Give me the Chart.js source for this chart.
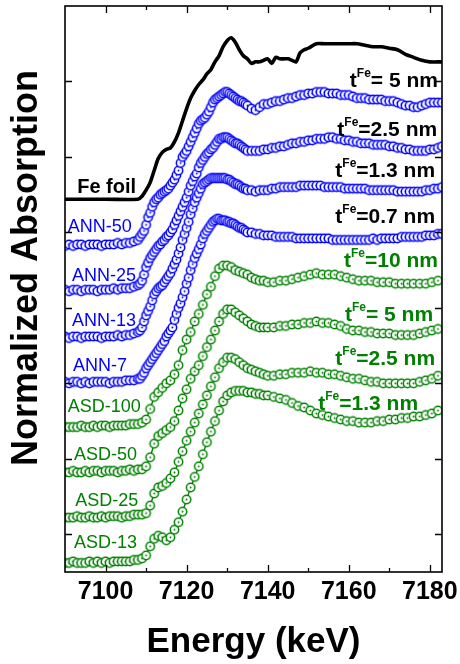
<!DOCTYPE html>
<html>
<head>
<meta charset="utf-8">
<title>Fe K-edge XANES</title>
<script src="https://cdn.jsdelivr.net/npm/chart.js@4.4.1/dist/chart.umd.min.js"></script>
<style>
  html, body { margin: 0; padding: 0; background: #fff; }
  canvas { display: block; }
</style>
</head>
<body>
<canvas id="xanes" width="460" height="664"></canvas>
<script>
// ---------- spectra (normalized absorption, stacked with a vertical offset) ----------

// Fe foil reference
const energyFe = [7090,7100,7108,7109,7110,7111,7112,7113,7114,7115,7116,7117,7118,7119,7120,7121,7122,7123,7124,7125,
  7126,7127,7128,7129,7130,7131,7132,7133,7134,7135,7136,7137,7138,7139,7140,7141,7142,7143,7144,7145,
  7146,7147,7148,7149,7150,7152,7154,7156,7158,7160,7162,7164,7166,7168,7170,7172,7174,7176,7178,7180,7183];
const muFe = [0.02,0.02,0.02,0.04,0.08,0.13,0.21,0.29,0.33,0.35,0.36,0.40,0.46,0.54,0.62,0.69,0.74,0.78,0.81,0.85,
  0.88,0.93,0.97,1.03,1.07,1.09,1.06,1.01,0.97,0.95,0.92,0.93,0.93,0.94,0.95,0.92,0.96,0.95,0.95,0.95,
  0.94,0.93,0.99,1.01,1.02,1.05,1.05,1.05,1.05,1.05,1.05,1.04,1.03,1.03,1.02,1.01,0.98,0.96,0.94,0.93,0.93];

// annealed films (ANN): shared energy grid
const energyAnn = [7090,7091,7092,7093,7094,7095,7096,7097,7098,7099,7100,7101,7102,7103,7104,7105,7106,7107,7108,
  7108.5,7109,7109.5,7110,7110.5,7111,7111.5,7112,7112.5,7113,7113.5,7114,7114.5,7115,7115.5,7116,7116.5,7117,7117.5,7118,
  7118.5,7119,7119.5,7120,7120.5,7121,7121.5,7122,7122.5,7123,7123.5,7124,7124.5,7125,7125.5,7126,7126.5,7127,7127.5,7128,
  7128.5,7129,7129.5,7130,7130.5,7131,7131.5,7132,7132.5,7133,7133.5,7134,7134.5,7135,
  7136,7137,7138,7139,7140,7141,7142,7143,7144,7145,7146,7147,7148,7149,7150,7151,7152,7153,7154,7155,
  7156,7157,7158,7159,7160,7161,7162,7163,7164,7165,7166,7167,7168,7169,7170,7171,7172,7173,7174,7175,
  7176,7177,7178,7179,7180,7181,7182,7183];
const muAnn50 = [0.01,0.02,0.01,0.02,0.02,0.01,0.02,0.02,0.02,0.01,0.02,0.02,0.02,0.03,0.02,0.03,0.03,0.04,0.05,
  0.07,0.09,0.11,0.15,0.20,0.23,0.27,0.30,0.32,0.33,0.35,0.36,0.37,0.38,0.39,0.41,0.43,0.45,0.48,0.51,
  0.56,0.60,0.62,0.64,0.67,0.70,0.73,0.76,0.79,0.82,0.84,0.85,0.86,0.88,0.90,0.93,0.96,0.98,0.99,1.00,
  1.01,1.02,1.03,1.03,1.02,1.01,1.00,0.99,0.98,0.97,0.97,0.96,0.95,0.94,
  0.92,0.91,0.93,0.95,0.95,0.96,0.97,0.97,0.98,0.99,0.99,1.00,1.01,1.01,1.02,1.02,1.03,1.03,1.03,1.02,
  1.02,1.02,1.01,1.01,1.01,1.00,0.99,0.99,0.99,0.98,0.98,0.98,0.98,0.97,0.97,0.97,0.96,0.95,0.94,0.94,
  0.93,0.93,0.94,0.95,0.96,0.96,0.96,0.96];
const muAnn25 = [0.02,0.01,0.02,0.02,0.01,0.02,0.02,0.02,0.01,0.02,0.02,0.02,0.03,0.02,0.03,0.03,0.03,0.04,0.05,
  0.06,0.08,0.12,0.17,0.20,0.23,0.25,0.27,0.29,0.31,0.32,0.34,0.35,0.37,0.38,0.40,0.42,0.45,0.48,0.51,
  0.54,0.57,0.60,0.63,0.67,0.71,0.74,0.77,0.79,0.83,0.86,0.88,0.90,0.92,0.93,0.95,0.96,0.98,1.00,1.02,
  1.02,1.03,1.03,1.03,1.02,1.01,1.00,0.99,0.99,0.98,0.97,0.96,0.95,0.94,
  0.94,0.94,0.94,0.95,0.95,0.96,0.96,0.97,0.97,0.98,0.99,0.99,1.00,1.00,1.01,1.01,1.02,1.02,1.02,1.03,
  1.03,1.02,1.02,1.01,1.01,1.00,1.00,0.99,0.99,0.99,0.98,0.98,0.98,0.98,0.97,0.97,0.96,0.96,0.95,0.95,
  0.94,0.94,0.94,0.94,0.95,0.95,0.96,0.97];
const muAnn13 = [0.01,0.00,0.01,0.01,0.00,0.01,0.01,0.01,0.01,0.00,0.01,0.01,0.01,0.02,0.01,0.02,0.02,0.03,0.04,
  0.05,0.07,0.11,0.15,0.18,0.21,0.25,0.29,0.31,0.33,0.34,0.35,0.37,0.39,0.41,0.43,0.46,0.49,0.52,0.56,
  0.60,0.65,0.69,0.73,0.77,0.82,0.86,0.90,0.93,0.96,0.99,1.02,1.03,1.04,1.05,1.06,1.06,1.06,1.06,1.06,
  1.06,1.06,1.06,1.05,1.05,1.04,1.03,1.02,1.02,1.01,1.00,0.99,0.99,0.98,
  0.98,0.97,0.98,0.98,0.98,0.99,0.99,1.00,1.00,1.00,1.00,1.00,1.01,1.01,1.01,1.01,1.01,1.01,1.00,1.00,
  1.00,1.00,1.00,0.99,0.99,0.99,0.99,0.99,0.99,0.98,0.98,0.98,0.98,0.98,0.98,0.98,0.97,0.97,0.97,0.97,
  0.97,0.97,0.97,0.98,0.98,0.99,0.99,1.00];
const muAnn7 = [0.01,0.00,0.01,0.01,0.00,0.01,0.00,0.01,0.01,0.01,0.01,0.00,0.01,0.01,0.01,0.02,0.02,0.02,0.03,
  0.03,0.05,0.07,0.10,0.12,0.14,0.16,0.18,0.20,0.22,0.24,0.26,0.28,0.31,0.33,0.35,0.37,0.42,0.46,0.50,
  0.53,0.57,0.61,0.66,0.70,0.75,0.79,0.83,0.86,0.89,0.92,0.96,0.99,1.01,1.03,1.05,1.07,1.08,1.09,1.09,
  1.08,1.08,1.08,1.07,1.07,1.06,1.06,1.05,1.04,1.03,1.03,1.02,1.01,1.00,
  1.00,0.99,0.99,0.98,0.98,0.98,0.97,0.97,0.97,0.97,0.97,0.96,0.96,0.96,0.96,0.96,0.96,0.96,0.96,0.96,
  0.95,0.95,0.95,0.95,0.95,0.95,0.95,0.95,0.95,0.95,0.96,0.95,0.96,0.96,0.96,0.96,0.96,0.97,0.97,0.97,
  0.97,0.97,0.97,0.98,0.98,0.98,0.99,0.99];

// as-deposited films (ASD): shared energy grid
const energyAsd = [7090,7091,7092,7093,7094,7095,7096,7097,7098,7099,7100,7101,7102,7103,7104,7105,7106,7107,7108,7109,
  7110,7111,7112,7113,7114,7115,7116,7117,7118,7119,7120,7121,7122,7123,7124,7125,7126,7127,7128,7129,
  7130,7131,7132,7133,7134,7135,7136,7137,7138,7139,7140,
  7141.5,7143,7144.5,7146,7147.5,7149,7150.5,7152,7153.5,7155,7156.5,7158,7159.5,7161,7162.5,7164,7165.5,7167,
  7168.5,7170,7171.5,7173,7174.5,7176,7177.5,7179,7180.5,7182];
const muAsd100 = [0.01,0.01,0.01,0.01,0.02,0.01,0.01,0.02,0.01,0.02,0.02,0.01,0.02,0.02,0.02,0.02,0.03,0.03,0.03,0.04,
  0.06,0.13,0.21,0.24,0.27,0.30,0.32,0.36,0.42,0.52,0.59,0.64,0.71,0.76,0.82,0.89,0.94,1.01,1.06,1.08,
  1.08,1.07,1.05,1.04,1.03,1.02,1.00,0.99,0.98,0.98,0.97,
  0.97,0.98,0.98,0.99,1.00,1.01,1.02,1.03,1.02,1.02,1.02,1.01,1.00,0.99,0.98,0.98,0.98,0.97,
  0.97,0.97,0.96,0.96,0.96,0.96,0.96,0.96,0.97,0.98];
const muAsd50 = [0.01,0.01,0.02,0.01,0.01,0.02,0.01,0.02,0.02,0.01,0.02,0.02,0.02,0.01,0.02,0.02,0.03,0.02,0.03,0.03,
  0.05,0.11,0.20,0.25,0.27,0.29,0.31,0.35,0.42,0.50,0.56,0.63,0.68,0.72,0.78,0.84,0.89,0.95,1.01,1.06,
  1.09,1.09,1.07,1.05,1.03,1.01,0.99,0.98,0.97,0.97,0.97,
  0.97,0.98,0.98,0.99,0.99,1.00,1.00,1.01,1.00,1.00,0.99,0.98,0.96,0.95,0.95,0.94,0.94,0.93,
  0.93,0.93,0.92,0.92,0.92,0.92,0.93,0.94,0.95,0.96];
const muAsd25 = [0.01,0.01,0.01,0.02,0.01,0.01,0.02,0.01,0.01,0.02,0.01,0.02,0.02,0.02,0.01,0.02,0.02,0.03,0.03,0.03,
  0.04,0.09,0.17,0.21,0.22,0.24,0.27,0.31,0.38,0.45,0.52,0.58,0.64,0.70,0.76,0.82,0.88,0.94,1.00,1.04,
  1.07,1.07,1.06,1.04,1.02,1.00,0.99,0.98,0.97,0.96,0.95,
  0.95,0.96,0.96,0.97,0.97,0.97,0.98,0.97,0.97,0.96,0.96,0.95,0.94,0.93,0.93,0.92,0.91,0.91,
  0.90,0.90,0.90,0.90,0.90,0.90,0.91,0.92,0.93,0.95];
const muAsd13 = [0.01,0.01,0.02,0.01,0.01,0.01,0.02,0.01,0.02,0.01,0.02,0.01,0.02,0.02,0.02,0.02,0.02,0.03,0.03,0.04,
  0.06,0.12,0.17,0.19,0.18,0.16,0.18,0.23,0.28,0.35,0.43,0.51,0.58,0.65,0.73,0.81,0.88,0.95,1.02,1.08,
  1.12,1.14,1.15,1.15,1.15,1.14,1.14,1.13,1.13,1.12,1.12,
  1.11,1.10,1.09,1.07,1.05,1.04,1.02,1.00,0.99,0.98,0.97,0.96,0.95,0.95,0.94,0.94,0.94,0.95,
  0.95,0.96,0.96,0.97,0.97,0.98,0.98,0.99,1.00,1.02];

// sample names, Fe layer thickness and vertical stacking offset (top to bottom)
const sampleNames = ['Fe foil','ANN-50','ANN-25','ANN-13','ANN-7','ASD-100','ASD-50','ASD-25','ASD-13'];
const thicknessText = [null,'= 5 nm','=2.5 nm','=1.3 nm','=0.7 nm','=10 nm','= 5 nm','=2.5 nm','=1.3 nm'];
const stackOffset = [2.2, 1.9, 1.6, 1.3, 1.0, 0.7, 0.4, 0.1, -0.2];
const sampleEnergy = [energyFe, energyAnn, energyAnn, energyAnn, energyAnn, energyAsd, energyAsd, energyAsd, energyAsd];
const sampleMu = [muFe, muAnn50, muAnn25, muAnn13, muAnn7, muAsd100, muAsd50, muAsd25, muAsd13];

// ---------- label placement (energy, stacked absorption) ----------
const nameAt = [[7093, 2.26], [7090.7, 2.0], [7091.7, 1.68], [7091.7, 1.38], [7092, 1.08],
                [7090.7, 0.81], [7092.2, 0.49], [7092.5, 0.19], [7092.2, -0.09]];
const thicknessAt = [null, [7182, 2.963], [7181.8, 2.639], [7181.3, 2.367], [7181.3, 2.062],
                     [7182, 1.771], [7180.8, 1.413], [7181.3, 1.121], [7177.1, 0.823]];

// ---------- styling ----------
const FONT = '"Liberation Sans", Arial, Helvetica, sans-serif';
const BLACK = '#000000', BLUE = '#0000ff', GREEN = '#008000';
const seriesColor = i => (i === 0 ? BLACK : i <= 4 ? BLUE : GREEN);

// open circle with a white face and a centre dot
function ringMarker(color) {
  const c = document.createElement('canvas');
  c.width = 13; c.height = 13;
  const g = c.getContext('2d');
  g.beginPath(); g.arc(6.5, 6.5, 4.2, 0, Math.PI * 2);
  g.fillStyle = '#ffffff'; g.fill();
  g.lineWidth = 1.5; g.strokeStyle = color; g.stroke();
  g.beginPath(); g.arc(6.5, 6.5, 0.95, 0, Math.PI * 2);
  g.fillStyle = color; g.fill();
  return c;
}
const blueRing = ringMarker(BLUE);
const greenRing = ringMarker(GREEN);

const datasets = sampleNames.map((name, i) => {
  const pts = sampleEnergy[i].map((e, k) => ({ x: e, y: sampleMu[i][k] + stackOffset[i] }));
  if (i === 0) {
    return { label: name, data: pts, borderColor: BLACK, borderWidth: 3.6, pointRadius: 0,
             tension: 0.3, fill: false };
  }
  const color = seriesColor(i);
  return { label: name, data: pts, borderColor: color, borderWidth: i <= 4 ? 1 : 1.4,
           pointStyle: i <= 4 ? blueRing : greenRing, pointRadius: 4, tension: 0, fill: false };
});

// box frame with inward ticks on all four sides
const framePlugin = {
  id: 'frame',
  afterDatasetsDraw(chart) {
    const { ctx, chartArea: a, scales: { x, y } } = chart;
    ctx.save();
    ctx.strokeStyle = BLACK;
    ctx.lineWidth = 1.3;
    ctx.beginPath();
    const major = x.ticks.map(t => t.value);
    const step = major.length > 1 ? major[1] - major[0] : 20;
    const minor = [];
    major.forEach(v => { const m = v + step / 2; if (m < x.max) minor.push(m); });
    if (major[0] - step / 2 > x.min) minor.push(major[0] - step / 2);
    const vTick = (v, len) => {
      const px = Math.round(x.getPixelForValue(v)) + 0.5;
      ctx.moveTo(px, a.bottom); ctx.lineTo(px, a.bottom - len);
      ctx.moveTo(px, a.top); ctx.lineTo(px, a.top + len);
    };
    major.forEach(v => vTick(v, 7));
    minor.forEach(v => vTick(v, 4));
    y.ticks.forEach(t => {
      const py = Math.round(y.getPixelForValue(t.value)) + 0.5;
      if (py < a.top + 2 || py > a.bottom - 2) return;
      ctx.moveTo(a.left, py); ctx.lineTo(a.left + 7, py);
      ctx.moveTo(a.right, py); ctx.lineTo(a.right - 7, py);
    });
    ctx.stroke();
    ctx.lineWidth = 1.6;
    ctx.strokeRect(a.left, a.top, a.right - a.left, a.bottom - a.top);
    ctx.restore();
  }
};

// sample names, thickness labels and axis titles
const labelPlugin = {
  id: 'labels',
  afterDraw(chart) {
    const { ctx, chartArea: a, scales: { x, y } } = chart;
    ctx.save();
    ctx.textBaseline = 'alphabetic';
    sampleNames.forEach((name, i) => {
      const [e, v] = nameAt[i];
      ctx.fillStyle = seriesColor(i);
      ctx.textAlign = 'left';
      ctx.font = i === 0 ? `bold 20px ${FONT}` : `18px ${FONT}`;
      ctx.fillText(name, x.getPixelForValue(e), y.getPixelForValue(v));
    });
    thicknessText.forEach((txt, i) => {
      if (!txt) return;
      const [e, v] = thicknessAt[i];
      const right = x.getPixelForValue(e), base = y.getPixelForValue(v);
      const main = `bold 21px ${FONT}`, sup = `bold 12px ${FONT}`;
      ctx.font = main; const wt = ctx.measureText('t').width; const wr = ctx.measureText(txt).width;
      ctx.font = sup; const wf = ctx.measureText('Fe').width;
      const start = right - (wt + wf + wr);
      ctx.fillStyle = i <= 4 ? BLACK : GREEN;
      ctx.textAlign = 'left';
      ctx.font = main; ctx.fillText('t', start, base);
      ctx.font = sup; ctx.fillText('Fe', start + wt, base - 10);
      ctx.font = main; ctx.fillText(txt, start + wt + wf, base);
    });
    // axis titles
    ctx.fillStyle = BLACK;
    ctx.textAlign = 'center';
    ctx.font = `bold 35px ${FONT}`;
    ctx.fillText('Energy (keV)', (a.left + a.right) / 2, a.bottom + 80);
    ctx.translate(a.left - 28, (a.top + a.bottom) / 2 - 21);
    ctx.rotate(-Math.PI / 2);
    ctx.font = `bold 36px ${FONT}`;
    ctx.fillText('Normalized Absorption', 0, 0);
    ctx.restore();
  }
};

new Chart(document.getElementById('xanes'), {
  type: 'line',
  data: { datasets },
  options: {
    responsive: false,
    animation: false,
    devicePixelRatio: 1,
    layout: { padding: { top: 6, right: 18, left: 0, bottom: 0 } },
    plugins: { legend: { display: false }, tooltip: { enabled: false } },
    scales: {
      x: {
        type: 'linear', min: 7090, max: 7183,
        grid: { display: false }, border: { display: false },
        ticks: { stepSize: 20, includeBounds: false, autoSkip: false, maxRotation: 0, padding: -3,
                 color: BLACK, font: { family: FONT, size: 25, weight: 'bold' },
                 callback: v => String(v) },
        afterFit(s) { s.height = 92; }
      },
      y: {
        type: 'linear', min: -0.25, max: 3.5,
        grid: { display: false }, border: { display: false },
        ticks: { display: false, stepSize: 0.5, includeBounds: false },
        afterFit(s) { s.width = 65; }
      }
    }
  },
  plugins: [framePlugin, labelPlugin]
});
</script>
</body>
</html>
